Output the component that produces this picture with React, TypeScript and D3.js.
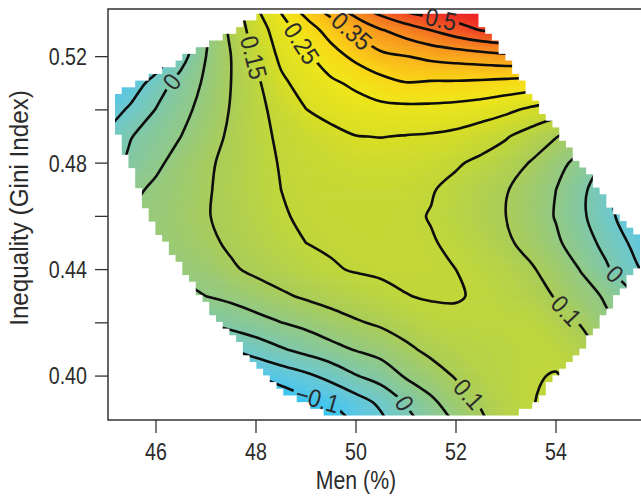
import React from 'react';
import * as d3 from 'd3';

// grid of the fitted surface: men (%) across, Gini index down (top row = 0.54)
const menGrid = [45, 45.5, 46, 46.5, 47, 47.5, 48, 48.5, 49, 49.5, 50, 50.5, 51, 51.5, 52, 52.5, 53, 53.5, 54, 54.5, 55, 55.5, 56];
const giniGrid = [0.54, 0.53, 0.52, 0.51, 0.5, 0.49, 0.48, 0.47, 0.46, 0.45, 0.44, 0.43, 0.42, 0.41, 0.4, 0.39, 0.38];

const surface = [
  [-0.3, -0.25, -0.17, -0.08, 0.02, 0.11, 0.192, 0.264, 0.33, 0.384, 0.446, 0.495, 0.536, 0.551, 0.553, 0.55, 0.55, 0.55, 0.545, 0.54, 0.53, 0.52, 0.51],
  [-0.25, -0.2, -0.13, -0.05, 0.04, 0.11, 0.175, 0.225, 0.276, 0.32, 0.358, 0.397, 0.424, 0.451, 0.478, 0.502, 0.515, 0.525, 0.528, 0.525, 0.515, 0.5, 0.49],
  [-0.2, -0.15, -0.09, -0.02, 0.05, 0.1, 0.155, 0.21, 0.241, 0.279, 0.312, 0.338, 0.348, 0.361, 0.369, 0.377, 0.386, 0.39, 0.392, 0.39, 0.385, 0.378, 0.37],
  [-0.13, -0.08, -0.027, 0.02, 0.058, 0.1, 0.14, 0.19, 0.22, 0.241, 0.26, 0.283, 0.298, 0.294, 0.293, 0.289, 0.283, 0.277, 0.268, 0.255, 0.235, 0.215, 0.19],
  [-0.08, -0.04, 0.002, 0.035, 0.068, 0.103, 0.137, 0.166, 0.199, 0.217, 0.227, 0.235, 0.236, 0.236, 0.232, 0.224, 0.21, 0.19, 0.17, 0.145, 0.12, 0.09, 0.06],
  [-0.04, -0.002, 0.026, 0.05, 0.08, 0.108, 0.135, 0.158, 0.17, 0.185, 0.199, 0.201, 0.198, 0.195, 0.188, 0.172, 0.154, 0.128, 0.102, 0.075, 0.045, 0.01, -0.03],
  [-0.03, 0.015, 0.04, 0.07, 0.092, 0.113, 0.133, 0.153, 0.163, 0.17, 0.175, 0.177, 0.175, 0.17, 0.155, 0.14, 0.122, 0.097, 0.065, 0.035, -0.005, -0.045, -0.09],
  [0.015, 0.038, 0.06, 0.075, 0.095, 0.115, 0.133, 0.15, 0.158, 0.163, 0.165, 0.165, 0.162, 0.153, 0.138, 0.12, 0.103, 0.078, 0.05, 0.013, -0.037, -0.08, -0.12],
  [0.045, 0.055, 0.063, 0.08, 0.097, 0.113, 0.128, 0.147, 0.155, 0.16, 0.162, 0.162, 0.158, 0.148, 0.135, 0.118, 0.1, 0.078, 0.047, 0.01, -0.035, -0.075, -0.11],
  [0.045, 0.055, 0.065, 0.075, 0.09, 0.107, 0.122, 0.137, 0.15, 0.155, 0.158, 0.16, 0.158, 0.153, 0.142, 0.128, 0.107, 0.086, 0.058, 0.025, -0.015, -0.055, -0.095],
  [0.025, 0.04, 0.052, 0.062, 0.072, 0.094, 0.109, 0.121, 0.134, 0.146, 0.153, 0.156, 0.157, 0.155, 0.15, 0.14, 0.127, 0.105, 0.08, 0.048, 0.008, -0.035, -0.075],
  [-0.025, -0.005, 0.015, 0.035, 0.05, 0.061, 0.078, 0.093, 0.106, 0.117, 0.128, 0.139, 0.149, 0.153, 0.153, 0.145, 0.135, 0.12, 0.097, 0.068, 0.045, 0.01, -0.03],
  [-0.07, -0.05, -0.03, -0.015, 0.003, 0.018, 0.032, 0.049, 0.063, 0.08, 0.095, 0.107, 0.123, 0.137, 0.141, 0.142, 0.142, 0.142, 0.122, 0.097, 0.058, 0.035, 0.0],
  [-0.16, -0.13, -0.11, -0.09, -0.07, -0.05, -0.027, -0.005, 0.015, 0.035, 0.053, 0.068, 0.09, 0.112, 0.125, 0.133, 0.138, 0.143, 0.14, 0.12, 0.09, 0.06, 0.03],
  [-0.24, -0.22, -0.2, -0.18, -0.16, -0.12, -0.1, -0.08, -0.06, -0.035, -0.003, 0.02, 0.055, 0.077, 0.104, 0.125, 0.137, 0.147, 0.152, 0.14, 0.12, 0.1, 0.08],
  [-0.27, -0.25, -0.23, -0.21, -0.19, -0.17, -0.15, -0.135, -0.115, -0.1, -0.073, -0.04, 0.003, 0.04, 0.075, 0.105, 0.13, 0.148, 0.16, 0.15, 0.13, 0.11, 0.09],
  [-0.29, -0.27, -0.25, -0.23, -0.21, -0.19, -0.17, -0.155, -0.14, -0.13, -0.1, -0.07, -0.025, 0.012, 0.05, 0.085, 0.12, 0.145, 0.16, 0.155, 0.14, 0.12, 0.1],
];

// outline of the region that has data (men %, Gini)
const hullOutline: [number, number][] = [
  [48.14, 0.536], [52.32, 0.536], [52.62, 0.53], [53.14, 0.515], [53.82, 0.497],
  [54.34, 0.4831], [54.74, 0.4737], [55.14, 0.4624], [55.68, 0.4511], [55.68, 0.4424],
  [54.62, 0.4135], [53.42, 0.3872], [53.12, 0.3853], [49.48, 0.3853], [48.82, 0.391],
  [48.42, 0.3959], [48.02, 0.4034], [47.48, 0.4162], [46.94, 0.4286], [46.52, 0.441],
  [45.98, 0.4549], [45.72, 0.4661], [45.18, 0.4951], [45.18, 0.5052],
];

const lineLevels = [-0.1, -0.05, 0, 0.05, 0.1, 0.15, 0.2, 0.25, 0.3, 0.35, 0.4, 0.45, 0.5];

const colorStops = [-0.12, -0.08, -0.05, 0, 0.05, 0.1, 0.15, 0.2, 0.25, 0.3, 0.35, 0.4, 0.45, 0.5, 0.53];
const colorRamp = ['#38c4f2', '#5cc7e2', '#6cc8cf', '#7ec8ac', '#92c985', '#a9cd5a', '#c0d63a', '#d9de24', '#efe61b', '#fad516', '#f9b31c', '#f7921f', '#f36c22', '#ef4124', '#ec2224'];

const xTicks = [46, 48, 50, 52, 54];
const yTicks = [0.4, 0.42, 0.44, 0.46, 0.48, 0.5, 0.52];
const yTickLabels = ['0.40', '', '0.44', '', '0.48', '', '0.52'];

// contour labels: level, text, approximate spot (men %, Gini)
const contourLabels = [
  { level: 0.5, text: '0.5', at: [51.68, 0.5323] },
  { level: 0.35, text: '0.35', at: [49.88, 0.5289] },
  { level: 0.25, text: '0.25', at: [48.92, 0.5251] },
  { level: 0.15, text: '0.15', at: [48.0, 0.5199] },
  { level: 0, text: '0', at: [46.32, 0.5105] },
  { level: 0.1, text: '0.1', at: [54.22, 0.4248] },
  { level: 0, text: '0', at: [55.12, 0.4372] },
  { level: 0.1, text: '0.1', at: [52.28, 0.3936] },
  { level: 0, text: '0', at: [50.98, 0.3899] },
  { level: -0.1, text: '\u22120.1', at: [49.24, 0.3921] },
];

const W = 641;
const H = 499;
const FONT = "'Liberation Sans', Arial, Helvetica, sans-serif";
const NARROW = 0.82;
const LABEL_NARROW = 0.9;

const textWidth = (s: string, size: number, k: number) =>
  s.split('').reduce((acc, ch) => acc + (ch === '.' ? 0.278 : ch === '\u2212' ? 0.584 : 0.556), 0) * size * k;

export default function App() {
  const x = d3.scaleLinear().domain([45.04, 55.8]).range([108, 646]);
  const y = d3.scaleLinear().domain([0.3835, 0.5379]).range([420, 9]);

  const nx = menGrid.length;
  const ny = giniGrid.length;
  const values = surface.flat();
  const dm = menGrid[1] - menGrid[0];
  const dg = giniGrid[0] - giniGrid[1];
  const toPx = (gx: number, gy: number): [number, number] => [
    x(menGrid[0] + (gx - 0.5) * dm),
    y(giniGrid[0] - (gy - 0.5) * dg),
  ];
  const projection = d3.geoTransform({
    point(px: number, py: number) {
      const p = toPx(px, py);
      (this as any).stream.point(p[0], p[1]);
    },
  });
  const path = d3.geoPath(projection);
  const contourGen = d3.contours().size([nx, ny]);
  const color = d3.scaleLinear<string>().domain(colorStops).range(colorRamp).clamp(true);

  // filled bands (fine steps so it reads as a smooth surface)
  const bandStep = 0.005;
  const bands = d3.range(-0.32, 0.62, bandStep).map((t) => ({
    d: path(contourGen.contour(values, t) as any) || '',
    fill: color(t + bandStep / 2),
  }));

  // contour lines
  const lineGen = d3.line().curve(d3.curveCatmullRomClosed);
  const lines = lineLevels.map((t) => {
    const mp = contourGen.contour(values, t);
    const rings: [number, number][][] = [];
    mp.coordinates.forEach((poly) =>
      poly.forEach((ring) => rings.push(ring.slice(0, -1).map(([a, b]) => toPx(a, b)))),
    );
    return { t, rings, d: rings.map((r) => lineGen(r as any)).join('') };
  });

  const hullPx = hullOutline.map(([m, g]) => [x(m), y(g)] as [number, number]);

  // label placement on the nearest part of the matching line
  const labelSize = 25;
  const labels = contourLabels.map((l) => {
    const tx = x(l.at[0]);
    const ty = y(l.at[1]);
    const line = lines.find((d) => Math.abs(d.t - l.level) < 1e-9)!;
    let best = { dist: Infinity, px: tx, py: ty, ang: 0 };
    line.rings.forEach((r) => {
      for (let i = 0; i < r.length; i++) {
        const a = r[i];
        const b = r[(i + 1) % r.length];
        const vx = b[0] - a[0];
        const vy = b[1] - a[1];
        const len2 = vx * vx + vy * vy || 1;
        let u = ((tx - a[0]) * vx + (ty - a[1]) * vy) / len2;
        u = Math.max(0, Math.min(1, u));
        const px = a[0] + u * vx;
        const py = a[1] + u * vy;
        if (!d3.polygonContains(hullPx, [px, py])) continue;
        const dist = Math.hypot(px - tx, py - ty);
        if (dist < best.dist) {
          let ang = (Math.atan2(vy, vx) * 180) / Math.PI;
          if (ang > 90) ang -= 180;
          if (ang < -90) ang += 180;
          best = { dist, px, py, ang };
        }
      }
    });
    return { ...l, x: best.px, y: best.py, ang: best.ang, w: textWidth(l.text, labelSize, LABEL_NARROW) };
  });

  // stepped clip built from the data cells
  const [mLo, mHi] = d3.extent(hullOutline, (d) => d[0]) as [number, number];
  const [gLo, gHi] = d3.extent(hullOutline, (d) => d[1]) as [number, number];
  const cellCols = 78;
  const cellRows = 60;
  const cdx = (mHi - mLo) / cellCols;
  const cdy = (gHi - gLo) / cellRows;
  const cellRects: { x: number; y: number; w: number; h: number }[] = [];
  for (let r = 0; r < cellRows; r++) {
    const gc = gLo + (r + 0.5) * cdy;
    let start = -1;
    for (let c = 0; c <= cellCols; c++) {
      const inside = c < cellCols && d3.polygonContains(hullOutline, [mLo + (c + 0.5) * cdx, gc]);
      if (inside && start < 0) start = c;
      if (!inside && start >= 0) {
        const x0 = x(mLo + start * cdx);
        const x1 = x(mLo + c * cdx);
        const y0 = y(gLo + (r + 1) * cdy);
        const y1 = y(gLo + r * cdy);
        cellRects.push({ x: x0, y: y0 - 0.3, w: x1 - x0, h: y1 - y0 + 0.6 });
        start = -1;
      }
    }
  }

  const axisColor = '#333';
  const textColor = '#2b2b2b';

  return (
    <svg width={W} height={H} style={{ position: 'absolute', left: 0, top: 0, fontFamily: FONT }}>
      <defs>
        <clipPath id="hull">
          {cellRects.map((c, i) => (
            <rect key={i} x={c.x} y={c.y} width={c.w} height={c.h} />
          ))}
        </clipPath>
        <mask id="gaps" maskUnits="userSpaceOnUse" x={0} y={0} width={W} height={H}>
          <rect x={0} y={0} width={W} height={H} fill="white" />
          {labels.map((l, i) => (
            <rect
              key={i}
              x={-l.w / 2 - 3}
              y={-labelSize * 0.4}
              width={l.w + 6}
              height={labelSize * 0.8}
              fill="black"
              transform={`translate(${l.x},${l.y}) rotate(${l.ang})`}
            />
          ))}
        </mask>
      </defs>

      <g clipPath="url(#hull)">
        {bands.map((b, i) => (
          <path key={i} d={b.d} fill={b.fill} />
        ))}
        <g mask="url(#gaps)">
          {lines.map((l) => (
            <path key={l.t} d={l.d} fill="none" stroke="#0d0d0d" strokeWidth={2.6} />
          ))}
        </g>
      </g>

      {labels.map((l, i) => (
        <text
          key={i}
          transform={`translate(${l.x},${l.y}) rotate(${l.ang}) scale(${LABEL_NARROW},1)`}
          textAnchor="middle"
          dominantBaseline="central"
          fontSize={labelSize}
          fill={textColor}
        >
          {l.text}
        </text>
      ))}

      {/* frame */}
      <rect x={108} y={9} width={540} height={411} fill="none" stroke={axisColor} strokeWidth={1.5} />

      {/* x axis */}
      {xTicks.map((t) => (
        <g key={t} transform={`translate(${x(t)},420)`}>
          <line y2={13} stroke={axisColor} strokeWidth={1.3} />
          <text transform={`translate(0,40) scale(${NARROW},1)`} textAnchor="middle" fontSize={24} fill={textColor}>
            {t}
          </text>
        </g>
      ))}
      <text
        transform={`translate(${x(50)},489) scale(0.85,1)`}
        textAnchor="middle"
        fontSize={25}
        fill={textColor}
      >
        Men (%)
      </text>

      {/* y axis */}
      {yTicks.map((t, i) => (
        <g key={t} transform={`translate(108,${y(t)})`}>
          <line x2={-13} stroke={axisColor} strokeWidth={1.3} />
          {yTickLabels[i] && (
            <text
              transform={`translate(-21,0) scale(${NARROW},1)`}
              dy="0.35em"
              textAnchor="end"
              fontSize={24}
              fill={textColor}
            >
              {yTickLabels[i]}
            </text>
          )}
        </g>
      ))}
      <text
        transform={`translate(28,208) rotate(-90) scale(0.97,1)`}
        textAnchor="middle"
        fontSize={25}
        fill={textColor}
      >
        Inequality (Gini Index)
      </text>
    </svg>
  );
}
